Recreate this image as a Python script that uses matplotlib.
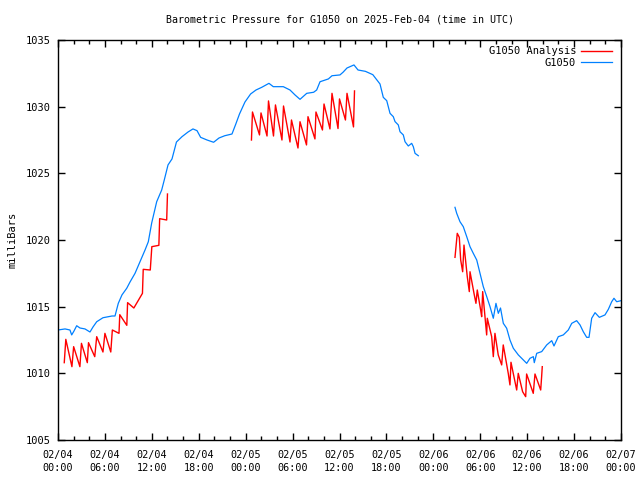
import numpy as np
import matplotlib
matplotlib.use("Agg")
import matplotlib.pyplot as plt
from matplotlib.ticker import MultipleLocator

# hours since 2025-02-04 00:00 UTC, pressure in mb
obs_hours_1 = [0.0, 0.9, 1.53, 1.75, 2.05, 2.39, 2.81, 3.45, 4.09, 4.48, 4.95, 5.75, 6.91, 7.29,
               7.71, 8.18, 8.79, 9.21, 9.85, 10.49, 11.13, 11.55, 11.98, 12.62, 13.26, 13.59,
               14.07, 14.58, 15.15, 15.86, 16.63, 17.26, 17.78, 18.24, 19.06, 19.9, 20.59, 21.32,
               22.25, 22.74, 23.21, 23.91, 24.63, 25.32, 26.05, 26.98, 27.53, 28.81, 29.67, 30.31,
               30.95, 31.81, 32.69, 33.08, 33.51, 34.58, 35.04, 36.06, 36.45, 36.96, 37.85, 38.37,
               39.31, 40.26, 41.18, 41.6, 42.04, 42.46, 42.88, 43.1, 43.52, 43.74, 44.16, 44.38,
               44.8, 45.23, 45.44, 45.66, 46.08]
obs_mb_1 = [1013.25, 1013.33, 1013.25, 1012.88, 1013.18, 1013.57, 1013.4, 1013.33, 1013.1, 1013.48,
            1013.87, 1014.17, 1014.3, 1014.3, 1015.25, 1015.88, 1016.38, 1016.85, 1017.5, 1018.38,
            1019.25, 1019.87, 1021.27, 1022.87, 1023.75, 1024.5, 1025.63, 1026.08, 1027.35, 1027.75,
            1028.1, 1028.33, 1028.2, 1027.7, 1027.5, 1027.33, 1027.65, 1027.82, 1027.95, 1028.7,
            1029.45, 1030.35, 1030.95, 1031.25, 1031.45, 1031.75, 1031.5, 1031.5, 1031.25, 1030.88,
            1030.55, 1031.0, 1031.08, 1031.25, 1031.87, 1032.08, 1032.32, 1032.38, 1032.58, 1032.9,
            1033.13, 1032.75, 1032.65, 1032.4, 1031.7, 1030.7, 1030.45, 1029.5, 1029.25, 1028.88,
            1028.63, 1028.12, 1027.88, 1027.37, 1027.05, 1027.25, 1027.0, 1026.5, 1026.32]

obs_hours_2 = [50.77, 50.99, 51.41, 51.83, 52.27, 52.69, 53.11, 53.55, 53.97, 54.39, 54.83, 55.25,
               55.67, 56.01, 56.31, 56.59, 56.95, 57.38, 57.8, 58.23, 58.87, 59.51, 59.94, 60.36,
               60.79, 60.91, 61.22, 61.86, 62.5, 63.14, 63.43, 63.98, 64.62, 65.26, 65.7, 66.33,
               66.76, 67.18, 67.61, 67.91, 68.25, 68.68, 69.23, 69.95, 70.38, 70.81, 71.1, 71.45, 72.0]
obs_mb_2 = [1022.45, 1022.0, 1021.37, 1021.0, 1020.25, 1019.5, 1019.0, 1018.5, 1017.5, 1016.5,
            1015.75, 1015.0, 1014.13, 1015.25, 1014.5, 1014.9, 1013.75, 1013.38, 1012.5, 1011.88,
            1011.38, 1011.0, 1010.75, 1011.13, 1011.25, 1010.8, 1011.5, 1011.63, 1012.13, 1012.45,
            1012.05, 1012.75, 1012.88, 1013.25, 1013.75, 1013.95, 1013.63, 1013.12, 1012.7, 1012.7,
            1014.13, 1014.55, 1014.2, 1014.38, 1014.8, 1015.37, 1015.63, 1015.37, 1015.45]

ana_hours_1 = [0.8, 1.0, 1.78, 2.0, 2.8, 3.0, 3.75, 3.9, 4.7, 4.95, 5.75, 6.0, 6.75, 6.95, 7.8,
               7.9, 8.8, 8.9, 9.7, 10.8, 10.9, 11.8, 12.0, 12.9, 13.0, 13.9, 14.0]
ana_mb_1 = [1010.8, 1012.55, 1010.5, 1012.0, 1010.5, 1012.25, 1010.8, 1012.3, 1011.25, 1012.75,
            1011.6, 1013.0, 1011.6, 1013.25, 1013.0, 1014.4, 1013.6, 1015.3, 1014.9, 1016.0,
            1017.8, 1017.75, 1019.5, 1019.6, 1021.6, 1021.5, 1023.45]

ana_hours_2 = [24.74, 24.87, 25.77, 25.96, 26.73, 26.92, 27.56, 27.81, 28.64, 28.84, 29.67, 29.86,
               30.69, 30.95, 31.78, 31.97, 32.86, 32.99, 33.82, 34.02, 34.78, 35.04, 35.81, 36.0,
               36.76, 36.96, 37.79, 37.92]
ana_mb_2 = [1027.5, 1029.6, 1027.88, 1029.53, 1027.8, 1030.43, 1027.8, 1030.13, 1027.5, 1030.05,
            1027.35, 1029.0, 1026.9, 1028.87, 1027.13, 1029.25, 1027.58, 1029.6, 1028.25, 1030.2,
            1028.33, 1031.0, 1028.36, 1030.58, 1029.0, 1031.0, 1028.48, 1031.18]

ana_hours_3 = [50.77, 51.06, 51.32, 51.5, 51.75, 51.92, 52.34, 52.6, 52.69, 53.2, 53.45, 53.62,
               54.05, 54.18, 54.31, 54.82, 54.9, 55.46, 55.67, 55.88, 56.3, 56.74, 56.94, 57.58,
               57.8, 57.93, 58.66, 58.86, 59.42, 59.81, 59.93, 60.78, 61.0, 61.73, 61.85, 61.93]
ana_mb_3 = [1018.7, 1020.5, 1020.2, 1018.5, 1017.62, 1019.62, 1017.25, 1016.13, 1017.62, 1016.0,
            1015.25, 1016.25, 1014.75, 1014.25, 1016.13, 1012.88, 1014.13, 1012.75, 1011.25, 1013.0,
            1011.38, 1010.63, 1012.13, 1010.0, 1009.13, 1010.83, 1008.75, 1010.0, 1008.62, 1008.25,
            1009.95, 1008.5, 1009.95, 1008.75, 1009.75, 1010.5]

tick_labels = ["02/04\n00:00", "02/04\n06:00", "02/04\n12:00", "02/04\n18:00",
               "02/05\n00:00", "02/05\n06:00", "02/05\n12:00", "02/05\n18:00",
               "02/06\n00:00", "02/06\n06:00", "02/06\n12:00", "02/06\n18:00",
               "02/07\n00:00"]

# join segments with NaN so the gaps stay open
ana_x = ana_hours_1 + [np.nan] + ana_hours_2 + [np.nan] + ana_hours_3
ana_y = ana_mb_1 + [np.nan] + ana_mb_2 + [np.nan] + ana_mb_3
obs_x = obs_hours_1 + [np.nan] + obs_hours_2
obs_y = obs_mb_1 + [np.nan] + obs_mb_2

plt.rcParams['font.family'] = 'DejaVu Sans Mono'
fig = plt.figure(figsize=(6.4, 4.8), dpi=100)
ax = fig.add_axes([58/640, 1 - 440/480, (621 - 58)/640, 400/480])

ax.plot(ana_x, ana_y, color='#ff0000', lw=1, label='G1050 Analysis')
ax.plot(obs_x, obs_y, color='#0080ff', lw=0.9, label='G1050')

ax.set_xlim(0, 72)
ax.set_ylim(1005, 1035)
ax.set_xticks(np.arange(0, 73, 6))
ax.set_xticklabels(tick_labels, fontsize=7.3, linespacing=1.35)
ax.xaxis.set_minor_locator(MultipleLocator(2))
ax.set_yticks(np.arange(1005, 1036, 5))
ax.tick_params(axis='y', labelsize=7.5, pad=5)
ax.tick_params(axis='x', pad=7)
ax.tick_params(which='major', direction='in', length=5, width=1, top=True, right=True)
ax.tick_params(which='minor', direction='in', length=3, width=1, top=True, right=False)
for s in ax.spines.values():
    s.set_linewidth(1)

ax.set_ylabel('milliBars', fontsize=7.5, labelpad=6)
ax.set_title('Barometric Pressure for G1050 on 2025-Feb-04 (time in UTC)',
             fontsize=7.2, pad=12.5)

leg = ax.legend(loc='upper right', frameon=False, markerfirst=False, fontsize=7.5,
                handlelength=3.0, handletextpad=0.5, labelspacing=0.15,
                borderaxespad=0.2, bbox_to_anchor=(0.996, 1.0))
for t in leg.get_texts():
    t.set_ha('right')

fig.savefig('out.png', dpi=100)
